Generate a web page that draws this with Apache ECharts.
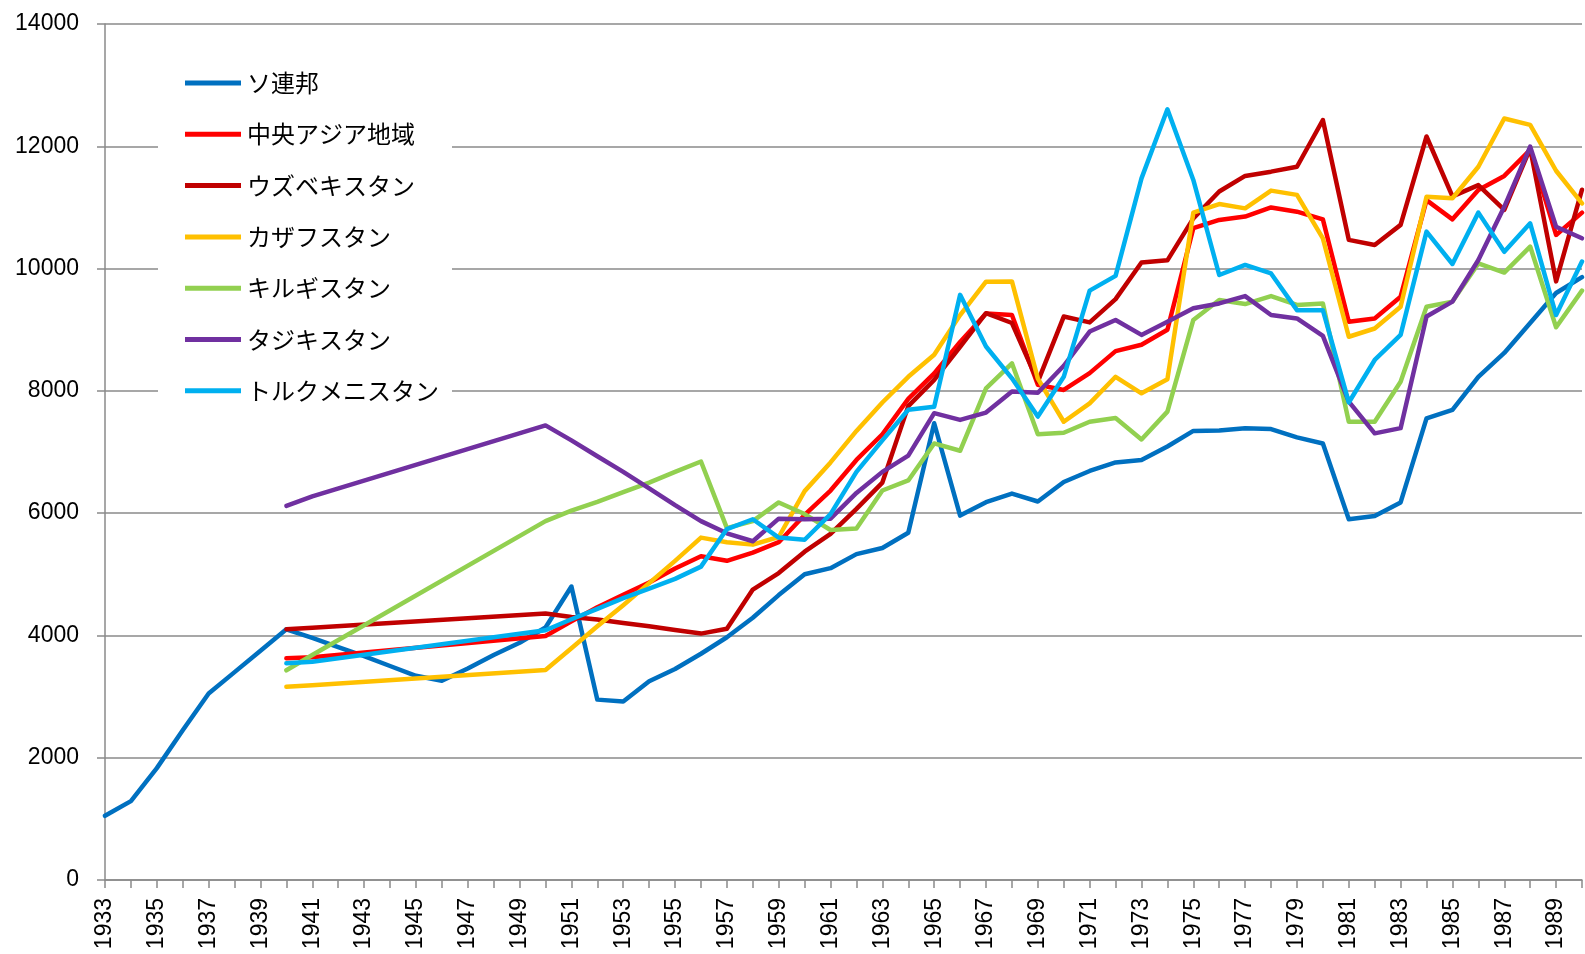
<!DOCTYPE html>
<html>
<head>
<meta charset="utf-8">
<script src="https://cdn.jsdelivr.net/npm/echarts@6/dist/echarts.min.js"></script>
<style>
html,body{margin:0;padding:0;background:#fff;}
#chart{width:1585px;height:954px;}
</style>
</head>
<body>
<div id="chart"></div>
<script>
const years = ['1933','1934','1935','1936','1937','1938','1939','1940','1941','1942','1943','1944','1945','1946','1947','1948','1949','1950','1951','1952','1953','1954','1955','1956','1957','1958','1959','1960','1961','1962','1963','1964','1965','1966','1967','1968','1969','1970','1971','1972','1973','1974','1975','1976','1977','1978','1979','1980','1981','1982','1983','1984','1985','1986','1987','1988','1989','1990'];

const seriesNames = ['ソ連邦','中央アジア地域','ウズベキスタン','カザフスタン','キルギスタン','タジキスタン','トルクメニスタン'];
const seriesColors = ['#0070C0','#FF0000','#C00000','#FFC000','#92D050','#7030A0','#00B0F0'];

const sovietUnion = [1050,1290,1830,2450,3050,3400,3750,4100,3960,3810,3660,3500,3340,3260,3460,3680,3880,4130,4800,2950,2920,3250,3450,3700,3970,4290,4660,5000,5100,5330,5430,5680,7470,5960,6180,6320,6190,6510,6690,6830,6870,7090,7345,7350,7390,7375,7240,7140,5900,5955,6175,7550,7690,8230,8620,9110,9600,9860];

const centralAsia = [null,null,null,null,null,null,null,3625,3645,null,null,null,null,null,null,null,null,3990,4230,4460,4665,4865,5095,5295,5220,5355,5525,5970,6370,6870,7290,7870,8285,8800,9265,9240,8100,8015,8290,8650,8755,9000,10660,10795,10850,11000,10930,10805,9130,9185,9540,11120,10805,11285,11515,11940,10550,10915];

const uzbekistan = [null,null,null,null,null,null,null,4100,4125,null,null,null,null,null,null,null,null,4360,4300,4260,4205,4150,4090,4030,4110,4750,5020,5370,5660,6070,6500,7750,8180,8720,9270,9110,8150,9215,9120,9500,10100,10135,10820,11260,11515,11585,11665,12430,10470,10385,10715,12160,11180,11365,10960,11965,9790,11290];

const kazakhstan = [null,null,null,null,null,null,null,3160,3185,null,null,null,null,null,null,null,null,3435,3790,4150,4495,4855,5220,5600,5525,5485,5610,6360,6830,7345,7810,8230,8590,9240,9785,9790,8200,7495,7795,8230,7960,8190,10915,11055,10985,11275,11205,10495,8885,9020,9375,11175,11150,11665,12455,12350,11600,11065];

const kyrgyzstan = [null,null,null,null,null,null,null,3430,3680,null,null,null,null,null,null,null,null,5870,6040,6185,6345,6500,6675,6845,5755,5870,6175,5985,5725,5750,6370,6535,7140,7020,8040,8450,7290,7315,7495,7555,7205,7660,9160,9485,9420,9550,9405,9430,7495,7495,8150,9375,9460,10085,9935,10360,9040,9640];

const tajikistan = [null,null,null,null,null,null,null,6120,6275,null,null,null,null,null,null,null,null,7435,7190,6930,6675,6405,6130,5870,5670,5540,5910,5900,5910,6330,6675,6940,7635,7525,7645,7990,7970,8410,8970,9160,8915,9130,9350,9430,9550,9240,9185,8900,7825,7305,7390,9215,9460,10140,11010,11995,10685,10495];

const turkmenistan = [null,null,null,null,null,null,null,3545,3570,null,null,null,null,null,null,null,null,4085,4265,4435,4610,4765,4925,5125,5740,5900,5600,5565,5985,6675,7190,7690,7740,9570,8725,8205,7580,8230,9640,9880,11475,12605,11450,9895,10060,9920,9320,9320,7810,8505,8915,10605,10075,10915,10275,10740,9240,10115];

const yTicks = [0,2000,4000,6000,8000,10000,12000,14000];

const allData = [sovietUnion, centralAsia, uzbekistan, kazakhstan, kyrgyzstan, tajikistan, turkmenistan];

const gray = '#8a8a8a';
const numFont = '"Liberation Sans", "Noto Sans CJK JP", sans-serif';

const chart = echarts.init(document.getElementById('chart'));
chart.setOption({
  animation: false,
  backgroundColor: '#fff',
  grid: { left: 105, right: 3, top: 24, bottom: 74 },
  legend: {
    orient: 'vertical',
    left: 158,
    top: 45,
    padding: [25, 13, 15, 27],
    backgroundColor: '#fff',
    icon: 'rect',
    itemWidth: 56,
    itemHeight: 5,
    itemGap: 25.3,
    itemStyle: { borderWidth: 0 },
    textStyle: {
      fontFamily: '"Noto Sans CJK JP", sans-serif',
      fontSize: 24,
      lineHeight: 26,
      color: '#000',
      padding: [0, 0, 0, 1]
    },
    data: seriesNames
  },
  xAxis: {
    type: 'category',
    data: years,
    boundaryGap: false,
    axisLine: { show: true, lineStyle: { color: gray, width: 1.5 } },
    axisTick: { show: true, interval: 0, length: 8, lineStyle: { color: gray, width: 1.5 } },
    axisLabel: {
      interval: 1,
      rotate: 90,
      margin: 18,
      fontSize: 23,
      fontFamily: numFont,
      color: '#000'
    },
    splitLine: { show: false }
  },
  yAxis: {
    type: 'value',
    min: yTicks[0],
    max: yTicks[yTicks.length - 1],
    interval: 2000,
    axisLine: { show: true, lineStyle: { color: gray, width: 1.5 } },
    axisTick: { show: true, length: 8, lineStyle: { color: gray, width: 1.5 } },
    axisLabel: {
      margin: 26,
      fontSize: 23,
      fontFamily: numFont,
      color: '#000',
      formatter: function (v) { return String(v); }
    },
    splitLine: { show: true, lineStyle: { color: gray, width: 1.5 } }
  },
  series: seriesNames.map((name, i) => ({
    name: name,
    type: 'line',
    data: allData[i],
    connectNulls: true,
    showSymbol: false,
    symbol: 'none',
    color: seriesColors[i],
    lineStyle: { width: 4.5, color: seriesColors[i], cap: 'round', join: 'round' },
    emphasis: { disabled: true }
  }))
});
</script>
</body>
</html>
